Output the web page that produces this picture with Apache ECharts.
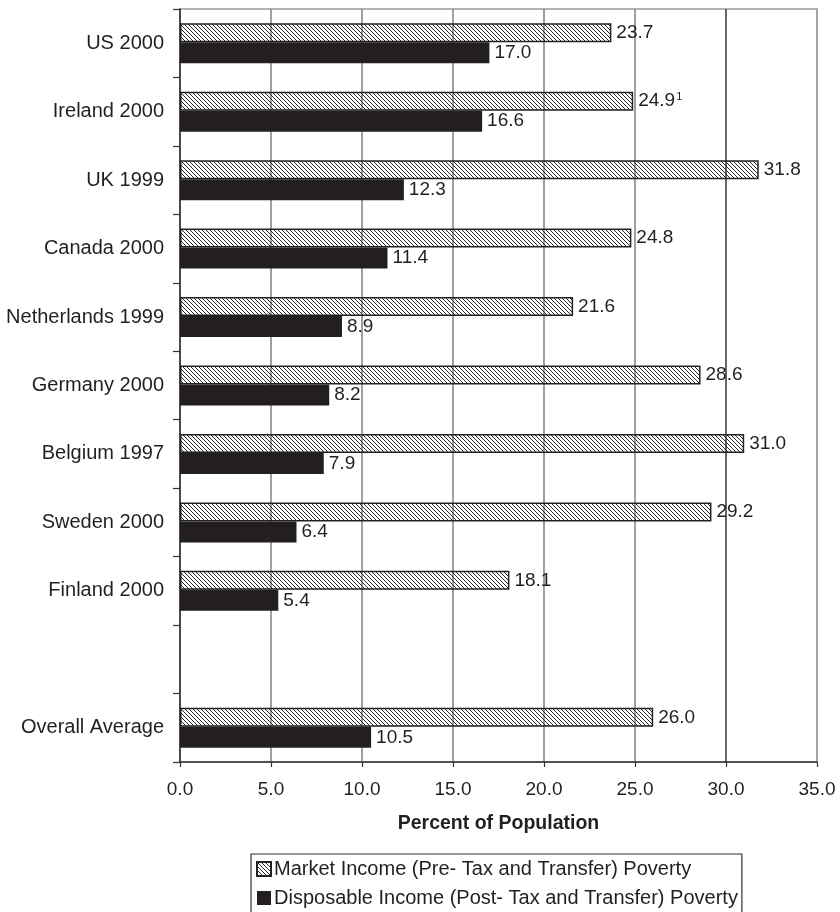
<!DOCTYPE html>
<html>
<head>
<meta charset="utf-8">
<style>
  html, body { margin: 0; padding: 0; background: #fff; }
  #chart { width: 840px; height: 912px; }
</style>
<script src="https://cdn.jsdelivr.net/npm/echarts@6/dist/echarts.min.js"></script>
</head>
<body>
<div id="chart"></div>
<script>
// Poverty rates by country, before and after taxes and transfers
const categories = ['US 2000', 'Ireland 2000', 'UK 1999', 'Canada 2000', 'Netherlands 1999',
  'Germany 2000', 'Belgium 1997', 'Sweden 2000', 'Finland 2000', '', 'Overall Average'];
const marketIncome = [23.7, 24.9, 31.8, 24.8, 21.6, 28.6, 31.0, 29.2, 18.1, null, 26.0];
const disposableIncome = [17.0, 16.6, 12.3, 11.4, 8.9, 8.2, 7.9, 6.4, 5.4, null, 10.5];
const marketFootnotes = ['', '1', '', '', '', '', '', '', '', '', ''];
const seriesNames = ['Market Income (Pre- Tax and Transfer) Poverty',
  'Disposable Income (Post- Tax and Transfer) Poverty'];
const xAxisName = 'Percent of Population';

const FONT = '"Liberation Sans", Arial, Helvetica, sans-serif';
const INK = '#231f20';
const FS = 19;

// Diagonal hatching tile for the pre-tax bars
function hatchTile() {
  const c = document.createElement('canvas');
  c.width = 4; c.height = 4;
  const g = c.getContext('2d');
  g.fillStyle = '#2a2a2a';
  for (let i = 0; i < 4; i++) g.fillRect(i, i, 1, 1);
  return c;
}
const hatch = { image: hatchTile(), repeat: 'repeat' };

const chart = echarts.init(document.getElementById('chart'), null, { renderer: 'canvas' });

chart.setOption({
  animation: false,
  textStyle: { fontFamily: FONT, color: INK },
  grid: {
    left: 180, right: 23, top: 9, bottom: 150,
    show: true, borderColor: '#9a9a9a', borderWidth: 1.5, backgroundColor: 'transparent'
  },
  xAxis: {
    type: 'value', min: 0, max: 35, interval: 5,
    name: xAxisName, nameLocation: 'middle', nameGap: 52,
    nameTextStyle: { fontSize: 19.5, fontWeight: 'bold', color: INK, fontFamily: FONT },
    axisLine: { show: true, lineStyle: { color: '#333', width: 1.5 } },
    axisTick: { show: true, length: 5, lineStyle: { color: '#333', width: 1.2 } },
    axisLabel: {
      margin: 18, fontSize: FS, color: INK, fontFamily: FONT,
      formatter: v => v.toFixed(1)
    },
    splitLine: {
      show: true,
      lineStyle: {
        width: 1.5,
        color: ['#808080', '#808080', '#808080', '#808080', '#808080', '#808080', '#333333', '#a0a0a0']
      }
    }
  },
  yAxis: {
    type: 'category', data: categories, inverse: true,
    axisLine: { show: true, lineStyle: { color: '#333', width: 1.5 } },
    axisTick: { show: true, length: 7, lineStyle: { color: '#333', width: 1.2 } },
    axisLabel: { margin: 16, fontSize: 20, color: INK, fontFamily: FONT },
    splitLine: { show: false }
  },
  legend: {
    orient: 'vertical', left: 251, top: 854, height: 120,
    icon: 'rect', itemWidth: 14, itemHeight: 14, itemGap: 9,
    borderColor: '#333', borderWidth: 1.2, borderRadius: 0,
    padding: [5, 4, 6, 5],
    textStyle: { fontSize: 20, color: INK, fontFamily: FONT, padding: [0, 0, 0, -2] },
    data: seriesNames
  },
  series: [
    {
      name: seriesNames[0], type: 'bar', data: marketIncome,
      barWidth: 19, barGap: '0%', barCategoryGap: '40%',
      itemStyle: { color: hatch, borderColor: '#222', borderWidth: 1.5 },
      label: {
        show: true, position: 'right', distance: 5,
        fontSize: FS, color: INK, fontFamily: FONT,
        formatter: p => marketFootnotes[p.dataIndex]
          ? '{v|' + p.value.toFixed(1) + '}{sup|' + marketFootnotes[p.dataIndex] + '}'
          : '{v|' + p.value.toFixed(1) + '}',
        rich: {
          v: { fontSize: FS, color: INK, fontFamily: FONT },
          sup: { fontSize: 11, color: INK, fontFamily: FONT, verticalAlign: 'top', padding: [0, 0, 8, 1] }
        }
      },
      z: 3
    },
    {
      name: seriesNames[1], type: 'bar', data: disposableIncome,
      barWidth: 21, barGap: '0%',
      itemStyle: { color: INK },
      label: {
        show: true, position: 'right', distance: 5,
        fontSize: FS, color: INK, fontFamily: FONT,
        formatter: p => p.value.toFixed(1)
      },
      z: 3
    }
  ]
});
</script>
</body>
</html>
